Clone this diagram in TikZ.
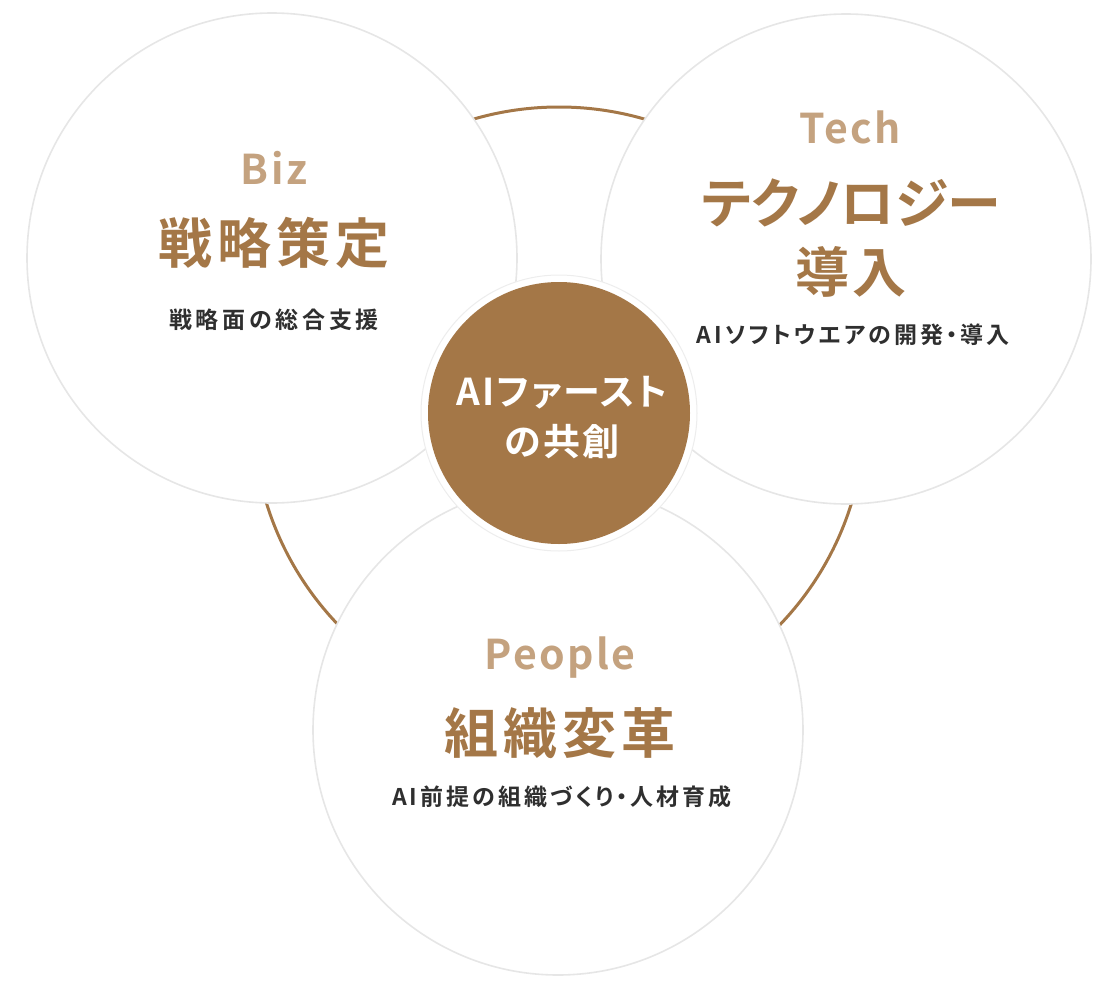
\documentclass[tikz,border=0pt]{standalone}
\usepackage{fontspec}
\setmainfont{Noto Sans CJK JP}[BoldFont={Noto Sans CJK JP Bold}]

\definecolor{bronze}{HTML}{A47747}
\definecolor{sand}{HTML}{C4A27F}
\definecolor{ink}{HTML}{2F2F2F}
\definecolor{rim}{HTML}{E6E6E6}

\tikzset{
  bubble/.style={circle,fill=white,draw=rim,line width=1.6pt,minimum size=490pt,inner sep=0pt},
  tag/.style={text=sand,font=\bfseries\fontsize{41}{41}\selectfont\addfontfeatures{LetterSpace=6}},
  title/.style={text=bronze,font=\bfseries\fontsize{54}{69}\selectfont\addfontfeatures{RawFeature=+palt,LetterSpace=9},align=center},
  blurb/.style={text=ink,font=\bfseries\fontsize{23}{28}\selectfont\addfontfeatures{RawFeature=+palt,LetterSpace=13}}
}

\begin{document}
\begin{tikzpicture}[x=1pt,y=-1pt]
\useasboundingbox (0,0) rectangle (1120,988);

% Draw the ring behind the circles
\draw[bronze,line width=3pt] (559,413) circle [radius=306pt];

% Draw the three outer circles
\node[bubble] (biz) at (272,258) {};
\node[bubble] (tech) at (846,259) {};
\node[bubble] (people) at (558,730) {};

% Draw the center circle with its white halo
\node[circle,fill=white,draw=rim!70,line width=1pt,minimum size=276pt] (halo) at (559,413) {};
\node[circle,fill=bronze,minimum size=262pt] (core) at (559,413) {};
\node[text=white,font=\bfseries\fontsize{37}{50}\selectfont\addfontfeatures{RawFeature=+palt,LetterSpace=6},align=center] (corelabel) at (562,418) {AIファースト\\の共創};

% Biz
\node[tag] (biztag) at (274,168) {Biz};
\node[title] (biztitle) at (274,243) {戦略策定};
\node[blurb] (bizblurb) at (274,320) {\addfontfeatures{LetterSpace=16}戦略面の総合支援};

% Tech
\node[tag] (techtag) at (850,127) {Tech};
\node[title] (techtitle) at (851,238) {\addfontfeatures{LetterSpace=0}テクノロジー\\\addfontfeatures{LetterSpace=4}導入};
\node[blurb] (techblurb) at (853,335) {AIソフトウエアの開発・導入};

% People
\node[tag] (peopletag) at (560,658) {People};
\node[title] (peopletitle) at (560,733) {組織変革};
\node[blurb] (peopleblurb) at (562,797) {AI前提の組織づくり・人材育成};

\end{tikzpicture}
\end{document}
